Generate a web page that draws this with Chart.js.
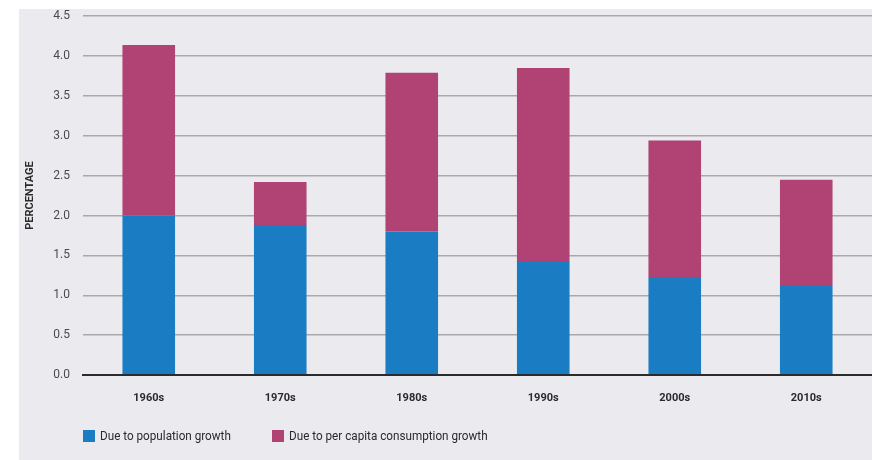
<!DOCTYPE html>
<html>
<head>
<meta charset="utf-8">
<script src="https://cdn.jsdelivr.net/npm/chart.js@4/dist/chart.umd.min.js"></script>
<style>
  body { margin: 0; background: #fff; }
  #panel { position: absolute; left: 19px; top: 9px; width: 853px; height: 451px; background: #ebebef; }
  #chart { position: absolute; left: 0; top: -13px; }
  #legend { position: absolute; left: 64px; top: 419px; display: flex; font: 13px Roboto, sans-serif; color: #2a2a2a; white-space: nowrap; }
  .item { display: flex; align-items: center; }
  .box { width: 12px; height: 12px; margin-right: 5px; flex: none; }
  .txt { display: inline-block; transform: scaleX(0.9); transform-origin: left center; }
</style>
</head>
<body>
<div id="panel">
  <canvas id="chart" width="853" height="464"></canvas>
  <div id="legend"></div>
</div>
<script>
const decades = ["1960s", "1970s", "1980s", "1990s", "2000s", "2010s"];
const population = [2.0, 1.88, 1.80, 1.43, 1.23, 1.13];
const perCapita = [2.14, 0.54, 1.99, 2.42, 1.71, 1.32];
const seriesNames = ["Due to population growth", "Due to per capita consumption growth"];
const seriesColors = ["#1a7cc3", "#b04373"];

const fontFamily = "Roboto, sans-serif";

// legend below the plot, built from the series names
const legend = document.getElementById("legend");
const itemWidths = [189, 260];
seriesNames.forEach((name, i) => {
  const item = document.createElement("div");
  item.className = "item";
  item.style.width = itemWidths[i] + "px";
  const box = document.createElement("span");
  box.className = "box";
  box.style.background = seriesColors[i];
  const txt = document.createElement("span");
  txt.className = "txt";
  txt.textContent = name;
  item.appendChild(box);
  item.appendChild(txt);
  legend.appendChild(item);
});

new Chart(document.getElementById("chart"), {
  type: "bar",
  data: {
    labels: decades,
    datasets: [
      { label: seriesNames[0], data: population, backgroundColor: seriesColors[0] },
      { label: seriesNames[1], data: perCapita, backgroundColor: seriesColors[1] }
    ]
  },
  options: {
    responsive: false,
    animation: false,
    layout: { padding: { top: 6, right: 0, left: 0, bottom: 0 } },
    datasets: { bar: { barPercentage: 0.4, categoryPercentage: 1 } },
    plugins: {
      legend: { display: false },
      tooltip: { enabled: false }
    },
    scales: {
      x: {
        stacked: true,
        afterFit: (s) => { s.height = 85; },
        grid: { display: false, drawTicks: false },
        border: { display: true, color: "#2b2b2b", width: 2 },
        ticks: { padding: 17, color: "#2a2a2a", font: { family: fontFamily, size: 11, weight: "bold" } }
      },
      y: {
        stacked: true,
        min: 0,
        max: 4.5,
        afterFit: (s) => { s.width = 64; },
        border: { display: false },
        grid: {
          drawTicks: false,
          color: (c) => c.index === 0 ? "#2b2b2b" : "#a9a9ab",
          lineWidth: (c) => c.index === 0 ? 2 : 1.5
        },
        ticks: {
          stepSize: 0.5,
          padding: 13,
          color: "#4a4a4a",
          font: { family: fontFamily, size: 12 },
          callback: (v) => v.toFixed(1)
        },
        title: {
          display: true,
          text: "PERCENTAGE",
          color: "#2a2a2a",
          padding: { top: 5, bottom: 0 },
          font: { family: fontFamily, size: 11, weight: "bold" }
        }
      }
    }
  }
});
</script>
</body>
</html>
